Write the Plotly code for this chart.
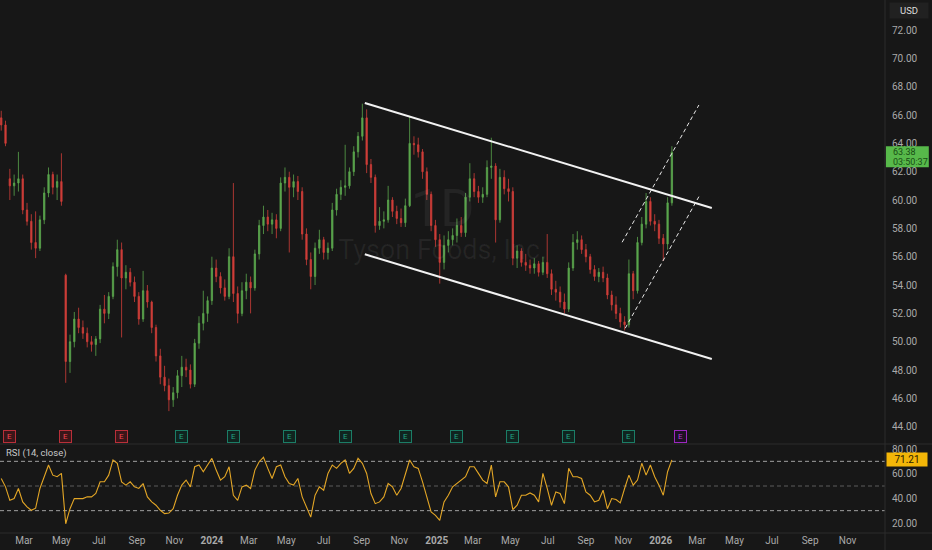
import pandas as pd
import plotly.graph_objects as go

# weekly bars (Monday dates)
week_start = "2023-01-23"
n_weeks = 157

opens = [65.8, 65.3, 61.5, 61.0, 61.2, 61.5, 59.3, 58.5, 57.0, 56.6,
         58.6, 60.5, 61.8, 60.9, 61.3, 54.7, 48.6, 50.0, 51.6, 51.0,
         50.6, 50.0, 49.8, 50.2, 52.3, 52.0, 53.2, 55.3, 56.5, 54.5,
         54.9, 54.2, 53.2, 51.6, 53.6, 52.8, 51.0, 49.0, 47.5, 46.9,
         45.9, 46.4, 47.6, 48.2, 48.0, 47.0, 49.9, 51.3, 52.0, 52.9,
         55.2, 54.6, 53.8, 53.2, 56.0, 53.4, 52.0, 53.6, 54.2, 53.8,
         56.2, 58.2, 58.8, 58.3, 58.6, 58.0, 61.2, 61.6, 60.9, 61.3,
         60.6, 57.6, 55.8, 54.6, 56.6, 57.2, 56.3, 56.6, 59.3, 60.4,
         60.9, 61.0, 62.0, 63.4, 64.5, 65.8, 62.5, 61.6, 58.2, 58.5,
         58.6, 60.0, 59.2, 58.7, 58.4, 59.6, 64.0, 63.9, 63.4, 62.0,
         60.4, 58.2, 57.2, 55.6, 56.8, 57.2, 57.5, 58.2, 57.7, 60.2,
         61.5, 60.6, 60.2, 60.4, 62.3, 62.4, 58.6, 61.6, 60.8, 60.6,
         55.9, 56.4, 55.6, 55.4, 55.2, 55.5, 54.9, 55.6, 54.8, 53.7,
         53.5, 52.8, 52.3, 55.2, 57.0, 57.2, 56.5, 56.0, 55.1, 54.6,
         54.9, 54.5, 53.3, 52.6, 52.0, 51.4, 51.2, 54.8, 53.6, 57.0,
         58.3, 59.9, 58.5, 58.3, 57.3, 56.9, 59.8]
highs = [66.3, 65.6, 62.2, 61.8, 63.4, 61.8, 59.8, 59.0, 59.2, 58.9,
         60.9, 62.3, 62.0, 61.8, 63.3, 54.8, 50.5, 52.1, 52.4, 51.5,
         51.0, 50.4, 50.4, 52.6, 53.3, 53.5, 55.6, 57.2, 57.0, 55.4,
         55.2, 54.6, 53.5, 55.0, 54.0, 52.9, 51.2, 49.5, 48.3, 47.4,
         46.8, 48.0, 49.0, 48.8, 48.4, 50.2, 51.8, 53.6, 53.2, 56.0,
         55.8, 54.9, 54.4, 56.6, 61.2, 53.9, 54.2, 54.8, 54.6, 56.5,
         58.6, 59.6, 59.3, 59.1, 59.0, 61.6, 62.3, 62.0, 61.8, 61.7,
         60.9, 58.0, 56.3, 57.0, 57.9, 57.4, 57.0, 59.8, 60.8, 61.4,
         63.9, 62.3, 63.8, 64.8, 66.8, 66.4, 62.9, 61.8, 59.5, 59.2,
         61.0, 60.2, 59.6, 59.4, 60.1, 65.9, 64.5, 64.4, 63.6, 62.3,
         60.6, 58.6, 57.6, 57.5, 57.8, 58.0, 58.7, 58.8, 60.5, 62.6,
         61.9, 61.0, 60.9, 62.8, 64.4, 62.6, 62.2, 62.1, 61.5, 60.9,
         56.8, 56.6, 56.2, 55.8, 55.9, 55.7, 56.0, 57.6, 55.1, 54.3,
         53.9, 53.4, 55.6, 57.6, 57.8, 57.5, 56.9, 56.2, 55.4, 55.2,
         55.3, 54.8, 53.6, 53.2, 52.4, 51.8, 55.8, 55.0, 57.4, 58.8,
         60.5, 60.2, 59.0, 58.6, 57.6, 60.2, 63.8]
lows = [64.9, 63.8, 60.0, 60.3, 60.6, 59.0, 58.2, 56.5, 55.9, 56.4,
        58.3, 60.2, 60.4, 60.0, 59.6, 47.1, 47.8, 49.6, 50.6, 50.2,
        49.6, 49.3, 49.0, 49.9, 51.3, 51.6, 53.0, 54.6, 50.3, 53.7,
        53.9, 52.8, 51.2, 51.4, 52.4, 50.6, 48.6, 47.0, 46.5, 45.1,
        45.4, 46.0, 46.8, 47.5, 46.7, 46.8, 49.5, 50.8, 51.4, 52.6,
        54.2, 53.4, 52.9, 53.0, 52.8, 51.3, 51.8, 53.0, 52.0, 53.6,
        55.8, 57.6, 57.8, 57.6, 57.3, 57.8, 60.6, 56.3, 60.2, 60.0,
        57.2, 55.4, 53.7, 54.0, 56.2, 55.8, 55.8, 56.4, 58.9, 60.0,
        60.3, 60.8, 61.7, 63.0, 64.2, 61.9, 61.2, 57.7, 57.9, 58.0,
        58.4, 58.8, 58.3, 58.1, 58.1, 59.5, 63.2, 63.0, 61.5, 60.0,
        57.8, 56.7, 54.1, 55.1, 56.3, 56.8, 57.0, 57.4, 57.4, 59.9,
        60.2, 59.8, 59.8, 60.2, 61.5, 57.0, 58.4, 60.4, 59.9, 55.4,
        55.2, 55.3, 55.0, 54.8, 54.8, 54.6, 54.7, 54.5, 53.3, 52.9,
        52.4, 52.0, 52.1, 55.0, 56.5, 56.2, 55.6, 54.8, 54.3, 54.2,
        54.2, 53.0, 52.2, 51.6, 51.0, 50.8, 51.0, 53.0, 53.4, 56.8,
        58.0, 58.2, 57.8, 56.9, 55.7, 56.5, 59.6]
closes = [65.3, 64.0, 61.0, 61.2, 61.5, 59.3, 58.5, 57.0, 56.6, 58.6,
          60.5, 61.8, 60.9, 61.3, 59.9, 48.6, 50.0, 51.6, 51.0, 50.6,
          50.0, 49.8, 50.2, 52.3, 52.0, 53.2, 55.3, 56.5, 54.5, 54.9,
          54.2, 53.2, 51.6, 53.6, 52.8, 51.0, 49.0, 47.5, 46.9, 45.9,
          46.4, 47.6, 48.2, 48.0, 47.0, 49.9, 51.3, 52.0, 52.9, 55.2,
          54.6, 53.8, 53.2, 56.0, 53.4, 52.0, 53.6, 54.2, 53.8, 56.2,
          58.2, 58.8, 58.3, 58.6, 58.0, 61.2, 61.6, 60.9, 61.3, 60.6,
          57.6, 55.8, 54.6, 56.6, 57.2, 56.3, 56.6, 59.3, 60.4, 60.9,
          61.0, 62.0, 63.4, 64.5, 65.8, 62.5, 61.6, 58.2, 58.5, 58.6,
          60.0, 59.2, 58.7, 58.4, 59.6, 64.0, 63.9, 63.4, 62.0, 60.4,
          58.2, 57.2, 55.6, 56.8, 57.2, 57.5, 58.2, 57.7, 60.2, 61.5,
          60.6, 60.2, 60.4, 62.3, 62.4, 58.6, 61.6, 60.8, 60.6, 55.9,
          56.4, 55.6, 55.4, 55.2, 55.5, 54.9, 55.6, 54.8, 53.7, 53.5,
          52.8, 52.3, 55.2, 57.0, 57.2, 56.5, 56.0, 55.1, 54.6, 54.9,
          54.5, 53.3, 52.6, 52.0, 51.4, 51.2, 54.8, 53.6, 57.0, 58.3,
          59.9, 58.5, 58.3, 57.3, 56.9, 59.8, 63.38]

rsi = [56.1, 49.3, 38.4, 39.8, 48.0, 37.1, 33.0, 30.3, 32.0, 48.0,
       57.5, 67.0, 58.8, 57.5, 60.2, 19.4, 31.6, 39.8, 39.8, 39.8,
       41.2, 41.2, 43.9, 53.4, 53.4, 58.8, 71.1, 68.4, 53.4, 50.7,
       53.4, 49.3, 48.0, 52.0, 41.2, 37.1, 34.4, 30.3, 27.6, 28.1,
       31.6, 42.5, 50.7, 54.8, 49.3, 65.6, 67.0, 61.6, 67.0, 72.4,
       62.9, 54.8, 57.5, 65.6, 42.5, 38.4, 49.3, 50.7, 48.0, 62.9,
       69.7, 73.3, 64.3, 56.1, 65.6, 67.0, 57.5, 52.0, 50.7, 56.1,
       41.2, 33.0, 24.8, 42.5, 49.3, 46.6, 60.2, 67.0, 64.3, 68.4,
       71.1, 60.2, 64.3, 72.4, 68.4, 60.2, 43.9, 35.7, 37.1, 41.2,
       52.0, 49.3, 42.5, 48.0, 60.2, 71.1, 65.6, 64.3, 53.4, 41.2,
       28.9, 26.2, 22.1, 37.1, 42.5, 49.3, 52.0, 54.8, 57.5, 65.6,
       65.6, 60.2, 54.8, 52.0, 67.0, 41.2, 53.4, 53.4, 49.3, 30.8,
       34.4, 42.5, 42.5, 44.4, 42.5, 37.1, 60.2, 48.0, 34.4, 45.2,
       43.9, 35.7, 64.3, 57.5, 57.5, 56.1, 45.2, 42.5, 37.1, 38.4,
       46.6, 31.6, 39.8, 39.0, 36.3, 48.0, 58.8, 50.7, 54.8, 68.4,
       58.8, 67.0, 57.5, 50.7, 42.5, 61.6, 71.21]
rsi_levels = [70, 50, 30]

# drawn channel (solid) and rising channel (dashed)
channel_dates = ["2024-09-06", "2026-03-25"]
channel_upper = [66.85, 59.44]
channel_lower = [56.17, 48.78]
rise_upper_dates = ["2025-10-30", "2026-03-04"]
rise_upper = [57.02, 66.71]
rise_lower_dates = ["2025-11-04", "2026-03-04"]
rise_lower = [50.95, 60.24]

# earnings events: red = miss, green = beat, purple = upcoming
earnings_dates = ["2023-02-06", "2023-05-08", "2023-08-07", "2023-11-13",
                  "2024-02-05", "2024-05-06", "2024-08-05", "2024-11-12",
                  "2025-02-03", "2025-05-05", "2025-08-04", "2025-11-10",
                  "2026-02-02"]
earnings_kind = ["miss", "miss", "miss", "beat", "beat", "beat", "beat",
                 "beat", "beat", "beat", "beat", "beat", "next"]

tick_dates = ["2023-03-01", "2023-05-01", "2023-07-01", "2023-09-01", "2023-11-01",
              "2024-01-01", "2024-03-01", "2024-05-01", "2024-07-01", "2024-09-01",
              "2024-11-01", "2025-01-01", "2025-03-01", "2025-05-01", "2025-07-01",
              "2025-09-01", "2025-11-01", "2026-01-01", "2026-03-01", "2026-05-01",
              "2026-07-01", "2026-09-01", "2026-11-01"]
tick_text = ["Mar", "May", "Jul", "Sep", "Nov", "<b>2024</b>", "Mar", "May", "Jul", "Sep",
             "Nov", "<b>2025</b>", "Mar", "May", "Jul", "Sep", "Nov", "<b>2026</b>",
             "Mar", "May", "Jul", "Sep", "Nov"]
price_ticks = list(range(44, 73, 2))
rsi_ticks = [20, 40, 60, 80]

last_price = closes[-1]
countdown = "03:50:37"

dates = pd.date_range(week_start, periods=n_weeks, freq="7D")

BG = "#171717"
TXT = "#a9a9a9"
SEP = "#2c2c2c"
FONT = "Roboto"
AX_R = 885 / 932          # right edge of the chart panes
PANE = (550 - 444) / 550  # split between price and RSI panes
BOTTOM = (550 - 533) / 550

fig = go.Figure()

fig.add_trace(go.Candlestick(
    x=dates, open=opens, high=highs, low=lows, close=closes,
    increasing=dict(line=dict(color="#5ba64d", width=0.8), fillcolor="#5ba64d"),
    decreasing=dict(line=dict(color="#cf3e39", width=0.8), fillcolor="#cf3e39"),
    whiskerwidth=0, hoverinfo="skip", xaxis="x", yaxis="y",
))

for d, v in [(channel_dates, channel_upper), (channel_dates, channel_lower)]:
    fig.add_trace(go.Scatter(x=d, y=v, mode="lines", hoverinfo="skip",
                             line=dict(color="#f2f2f2", width=2), xaxis="x", yaxis="y"))
for d, v in [(rise_upper_dates, rise_upper), (rise_lower_dates, rise_lower)]:
    fig.add_trace(go.Scatter(x=d, y=v, mode="lines", hoverinfo="skip",
                             line=dict(color="#e8e8e8", width=1, dash="4px,3px"),
                             xaxis="x", yaxis="y"))

fig.add_trace(go.Scatter(x=dates, y=rsi, mode="lines", hoverinfo="skip",
                         line=dict(color="#e3a626", width=1.1), xaxis="x", yaxis="y2"))

shapes = []
for lvl in rsi_levels:
    shapes.append(dict(type="line", xref="paper", yref="y2", x0=0, x1=AX_R, y0=lvl, y1=lvl,
                       line=dict(color="#5c5c5c" if lvl == 50 else "#a0a0a0",
                                 width=1, dash="4px,3px"), layer="below"))
# pane borders
shapes += [
    dict(type="line", xref="paper", yref="paper", x0=0, x1=1, y0=PANE, y1=PANE,
         line=dict(color=SEP, width=1)),
    dict(type="line", xref="paper", yref="paper", x0=0, x1=1, y0=BOTTOM, y1=BOTTOM,
         line=dict(color=SEP, width=1)),
    dict(type="line", xref="paper", yref="paper", x0=AX_R, x1=AX_R, y0=0, y1=1,
         line=dict(color=SEP, width=1)),
    # last price tag background
    dict(type="rect", xref="paper", yref="y", x0=AX_R + 0.001, x1=AX_R + 0.047,
         ysizemode="pixel", yanchor=last_price, y0=-15, y1=6,
         fillcolor="#57b94a", line=dict(width=0)),
]

kind_style = {
    "miss": dict(font="#f0444f", border="#b92f39", bg="#3a1619"),
    "beat": dict(font="#22a383", border="#1b7d66", bg="#10241f"),
    "next": dict(font="#b53ad6", border="#9c27c0", bg="#1d1024"),
}

annotations = [
    # watermark
    dict(text="1D", xref="paper", yref="paper", x=442 / 932, y=(550 - 208) / 550,
         showarrow=False, font=dict(family=FONT, size=52, color="rgba(255,255,255,0.06)")),
    dict(text="Tyson Foods, Inc.", xref="paper", yref="paper", x=442 / 932, y=(550 - 250) / 550,
         showarrow=False, font=dict(family=FONT, size=27, color="rgba(255,255,255,0.06)")),
    # currency box
    dict(text="USD", xref="paper", yref="paper", x=AX_R + 0.004, y=1 - 10 / 550,
         xanchor="left", yanchor="middle", showarrow=False, bgcolor="#212121",
         width=34, borderpad=2, font=dict(family=FONT, size=9.5, color="#dcdcdc")),
    # last price tag
    dict(text=f"{last_price:.2f}", xref="paper", yref="y", x=AX_R + 0.006, y=last_price,
         xanchor="left", yanchor="middle", yshift=0, showarrow=False,
         font=dict(family=FONT, size=9, color="#174d14")),
    dict(text=countdown, xref="paper", yref="y", x=AX_R + 0.006, y=last_price,
         xanchor="left", yanchor="middle", yshift=-10, showarrow=False,
         font=dict(family=FONT, size=9, color="#174d14")),
    # last RSI tag
    dict(text=f"{rsi[-1]:.2f}", xref="paper", yref="y2", x=AX_R + 0.001, y=rsi[-1],
         xanchor="left", yanchor="middle", showarrow=False, bgcolor="#f3b608",
         width=38, borderpad=1, font=dict(family=FONT, size=10, color="#2a2000")),
    dict(text="RSI (14, close)", xref="paper", yref="paper", x=0.004, y=(550 - 453) / 550,
         xanchor="left", yanchor="middle", showarrow=False,
         font=dict(family=FONT, size=9.5, color="#c8c8c8")),
]
for d, k in zip(earnings_dates, earnings_kind):
    st = kind_style[k]
    annotations.append(dict(
        text="E", x=d, xref="x", y=(550 - 436) / 550, yref="paper", showarrow=False,
        xanchor="center", yanchor="middle", bgcolor=st["bg"], bordercolor=st["border"],
        borderwidth=1, borderpad=1, width=9, font=dict(family=FONT, size=8, color=st["font"]),
    ))

fig.update_layout(
    width=932, height=550,
    margin=dict(l=0, r=0, t=0, b=0),
    paper_bgcolor=BG, plot_bgcolor=BG,
    showlegend=False,
    boxgap=0.55,
    font=dict(family=FONT, size=10, color=TXT),
    xaxis=dict(
        domain=[0, AX_R], anchor="y2", type="date",
        range=["2023-01-21", "2027-01-01"],
        rangeslider=dict(visible=False),
        tickvals=tick_dates, ticktext=tick_text, ticks="",
        showgrid=False, zeroline=False, showline=False,
        tickfont=dict(family=FONT, size=10, color=TXT),
    ),
    yaxis=dict(
        domain=[PANE, 1], anchor="x", side="right",
        range=[42.78, 74.12], tickvals=price_ticks, tickformat=".2f",
        showgrid=False, zeroline=False, ticks="", ticklabelstandoff=6,
        tickfont=dict(family=FONT, size=10, color=TXT),
    ),
    yaxis2=dict(
        domain=[BOTTOM, PANE], anchor="x", side="right",
        range=[11.9, 84.05], tickvals=rsi_ticks, tickformat=".2f",
        showgrid=False, zeroline=False, ticks="", ticklabelstandoff=6,
        tickfont=dict(family=FONT, size=10, color=TXT),
    ),
    shapes=shapes,
    annotations=annotations,
)

# the page body has a default 8px margin; drop it so the chart fills the window
fig.write_html("out.html", config={"displayModeBar": False},
               post_script="document.body.style.margin='0';")
